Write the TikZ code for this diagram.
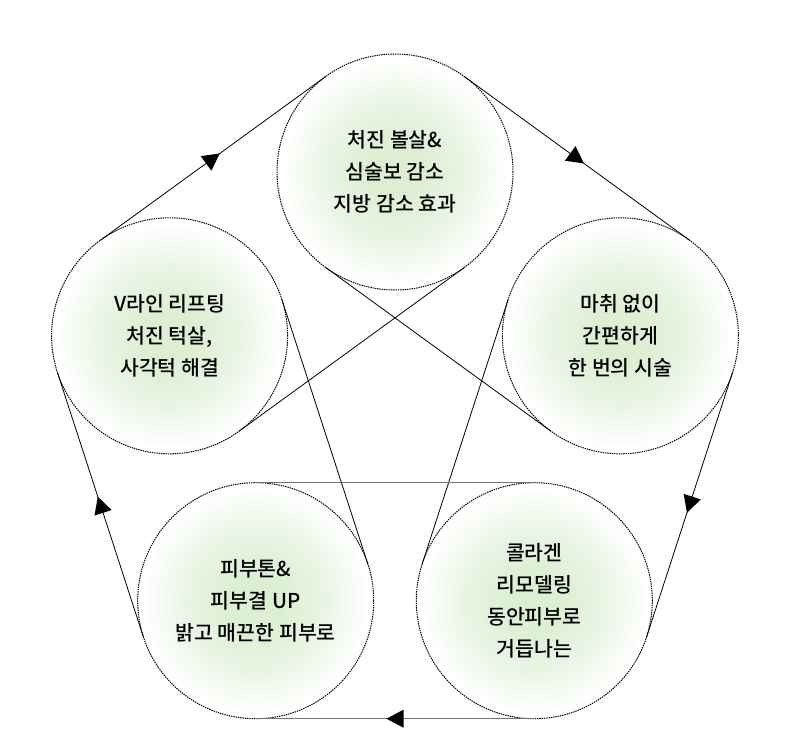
\documentclass[tikz,border=0pt]{standalone}
\usepackage{fontspec}
\usetikzlibrary{decorations.markings}
\IfFontExistsTF{Noto Sans CJK KR Medium}{\newfontfamily\kr{Noto Sans CJK KR Medium}}{\newfontfamily\kr{Noto Sans CJK KR}}
\definecolor{gA}{RGB}{220,239,211}
\definecolor{gB}{RGB}{234,245,229}
\pgfdeclareradialshading{gball}{\pgfpoint{0bp}{0bp}}{color(0bp)=(gA); color(6bp)=(gA); color(15bp)=(gB); color(24bp)=(white); color(50bp)=(white)}
\tikzset{
  bubble/.style={circle, minimum size=236pt, inner sep=0pt, outer sep=0pt,
    shade, shading=gball, align=center, text=black,
    font=\kr\fontsize{20.5}{32}\selectfont},
  ring/.style={draw=black, line width=1pt, dash pattern=on 1.4pt off 0.9pt},
  link/.style={draw=black, line width=0.8pt},
  cyc/.style={link, postaction={decorate}, decoration={markings,
    mark=at position 0.5 with {\fill[black] (8.5,0) -- (-8.5,9) -- (-8.5,-9) -- cycle;}}},
}
\begin{document}
\begin{tikzpicture}[x=1pt,y=-1pt]
\useasboundingbox (0,0) rectangle (790,753);
\fill[white] (0,0) rectangle (790,753);
\node[bubble, ring] (nt) at (395,172) {처진 볼살\&\\심술보 감소\\지방 감소 효과};
\node[bubble, ring] (nr) at (620.4,335.8) {마취 없이\\간편하게\\한 번의 시술};
\node[bubble, ring] (nbr) at (534.3,600.7) {콜라겐\\리모델링\\동안피부로\\거듭나는};
\node[bubble, ring] (nbl) at (255.7,600.7) {피부톤\&\\피부결 UP\\밝고 매끈한 피부로};
\node[bubble, ring] (nl) at (169.6,335.8) {V라인 리프팅\\처진 턱살,\\사각턱 해결};
% outer cycle with arrows
\draw[cyc] (nt.54) -- (nr.54);
\draw[cyc] (nr.-18) -- (nbr.-18);
\draw[cyc, draw=black!55] (nbr.270) -- (nbl.270);
\draw[cyc] (nbl.198) -- (nl.198);
\draw[cyc] (nl.126) -- (nt.126);
% inner tangents
\draw[link] (nt.234) -- (nr.234);
\draw[link] (nr.162) -- (nbr.162);
\draw[link, draw=black!55] (nbr.90) -- (nbl.90);
\draw[link] (nbl.18) -- (nl.18);
\draw[link] (nl.-54) -- (nt.-54);
\end{tikzpicture}
\end{document}
